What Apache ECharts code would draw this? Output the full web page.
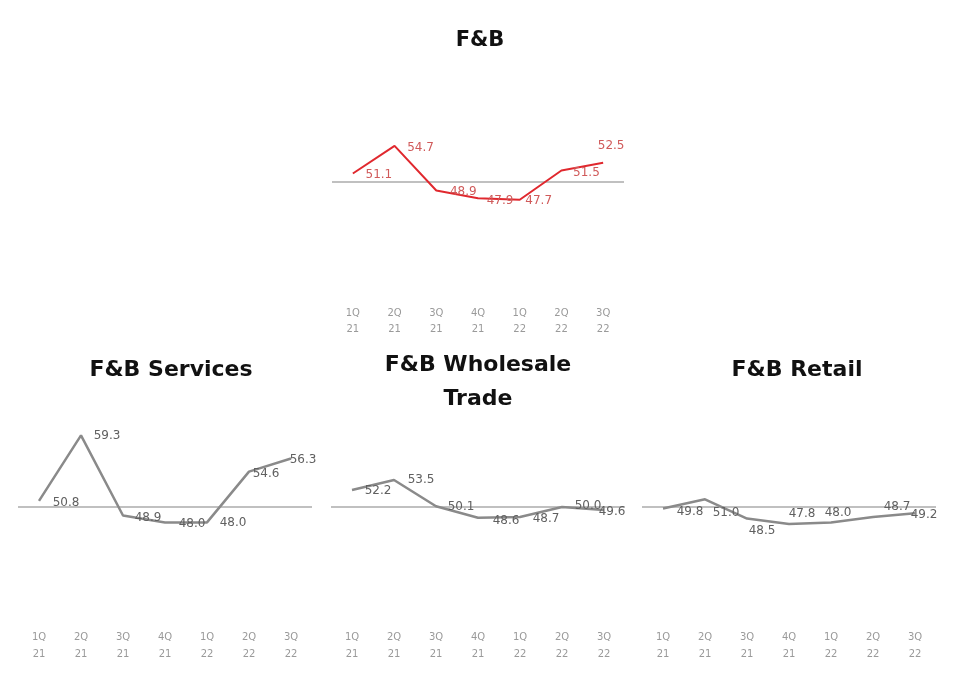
<!DOCTYPE html>
<html>
<head>
<meta charset="utf-8">
<script src="https://cdn.jsdelivr.net/npm/echarts@6/dist/echarts.min.js"></script>
<style>
html,body{margin:0;padding:0;background:#fff;}
#chart{width:960px;height:681px;}
</style>
</head>
<body>
<div id="chart"></div>
<script>
// ---- data ----
const quarters = ['1Q\n21','2Q\n21','3Q\n21','4Q\n21','1Q\n22','2Q\n22','3Q\n22'];
const fnb = [51.1, 54.7, 48.9, 47.9, 47.7, 51.5, 52.5];
const fnbServices = [50.8, 59.3, 48.9, 48.0, 48.0, 54.6, 56.3];
const fnbWholesale = [52.2, 53.5, 50.1, 48.6, 48.7, 50.0, 49.6];
const fnbRetail = [49.8, 51.0, 48.5, 47.8, 48.0, 48.7, 49.2];
const threshold = 50;
const titles = ['F&B', 'F&B Services', 'F&B Wholesale\nTrade', 'F&B Retail'];

// ---- label placement (styling) ----
const offTop = [[26,1],[26,2],[27,1],[22,3],[19,1],[25,2],[8,-17]];
const offSvc = [[27,2],[26,0],[25,2],[27,1],[26,0],[17,2],[12,1]];
const offWhs = [[26,1],[27,0],[25,1],[28,3],[26,2],[26,-1],[8,2]];
const offRet = [[27,3],[21,14],[15,12],[13,-10],[7,-10],[24,-10],[9,2]];

const panels = [
  {left: 332, width: 292, top: 105, values: fnb, offs: offTop, line: '#e0282e', lab: '#d05a5a', margin: 8, lh: 16},
  {left: 18, width: 294, top: 430, values: fnbServices, offs: offSvc, line: '#8a8a8a', lab: '#606060', margin: 6, lh: 17},
  {left: 331, width: 294, top: 430, values: fnbWholesale, offs: offWhs, line: '#8a8a8a', lab: '#606060', margin: 6, lh: 17},
  {left: 642, width: 294, top: 430, values: fnbRetail, offs: offRet, line: '#8a8a8a', lab: '#606060', margin: 6, lh: 17}
];
const gridH = 192.5;

const titleStyle = {fontFamily: 'DejaVu Sans', fontWeight: 'bold', fontSize: 22, color: '#111'};

const chart = echarts.init(document.getElementById('chart'), null, {renderer: 'canvas'});
const option = {
  backgroundColor: '#fff',
  animation: false,
  title: [
    {text: titles[0], left: 475, top: 25, textAlign: 'center', textStyle: Object.assign({}, titleStyle, {fontSize: 21})},
    {text: titles[1], left: 166, top: 354, textAlign: 'center', textStyle: titleStyle},
    {text: titles[2], left: 473, top: 343, textAlign: 'center', textStyle: Object.assign({}, titleStyle, {lineHeight: 34})},
    {text: titles[3], left: 792, top: 354, textAlign: 'center', textStyle: titleStyle}
  ],
  grid: panels.map(p => ({left: p.left, width: p.width, top: p.top, height: gridH, containLabel: false})),
  xAxis: panels.map((p, i) => ({
    type: 'category', gridIndex: i, data: quarters, boundaryGap: true,
    axisLine: {show: false}, axisTick: {show: false}, splitLine: {show: false},
    axisLabel: {margin: p.margin, color: '#9a9a9a', fontFamily: 'DejaVu Sans', fontSize: 10, lineHeight: p.lh, interval: 0}
  })),
  yAxis: panels.map((p, i) => ({
    type: 'value', gridIndex: i, min: 35, max: 60, show: false, splitLine: {show: false}
  })),
  series: panels.map((p, i) => ({
    type: 'line', xAxisIndex: i, yAxisIndex: i,
    symbol: 'circle', symbolSize: 2, showSymbol: true,
    itemStyle: {color: 'rgba(0,0,0,0)'},
    lineStyle: {color: p.line, width: i === 0 ? 2 : 2.5},
    z: 3,
    data: p.values.map((v, k) => ({value: v, label: {offset: p.offs[k]}})),
    label: {
      show: true, position: 'inside', color: p.lab, fontFamily: 'DejaVu Sans', fontSize: 12,
      formatter: q => Number(q.value).toFixed(1)
    },
    markLine: {
      silent: true, symbol: 'none', z: 1,
      label: {show: false},
      lineStyle: {color: '#c0c0c0', width: 2, type: 'solid'},
      data: [{yAxis: threshold}]
    }
  }))
};
chart.setOption(option);
</script>
</body>
</html>
